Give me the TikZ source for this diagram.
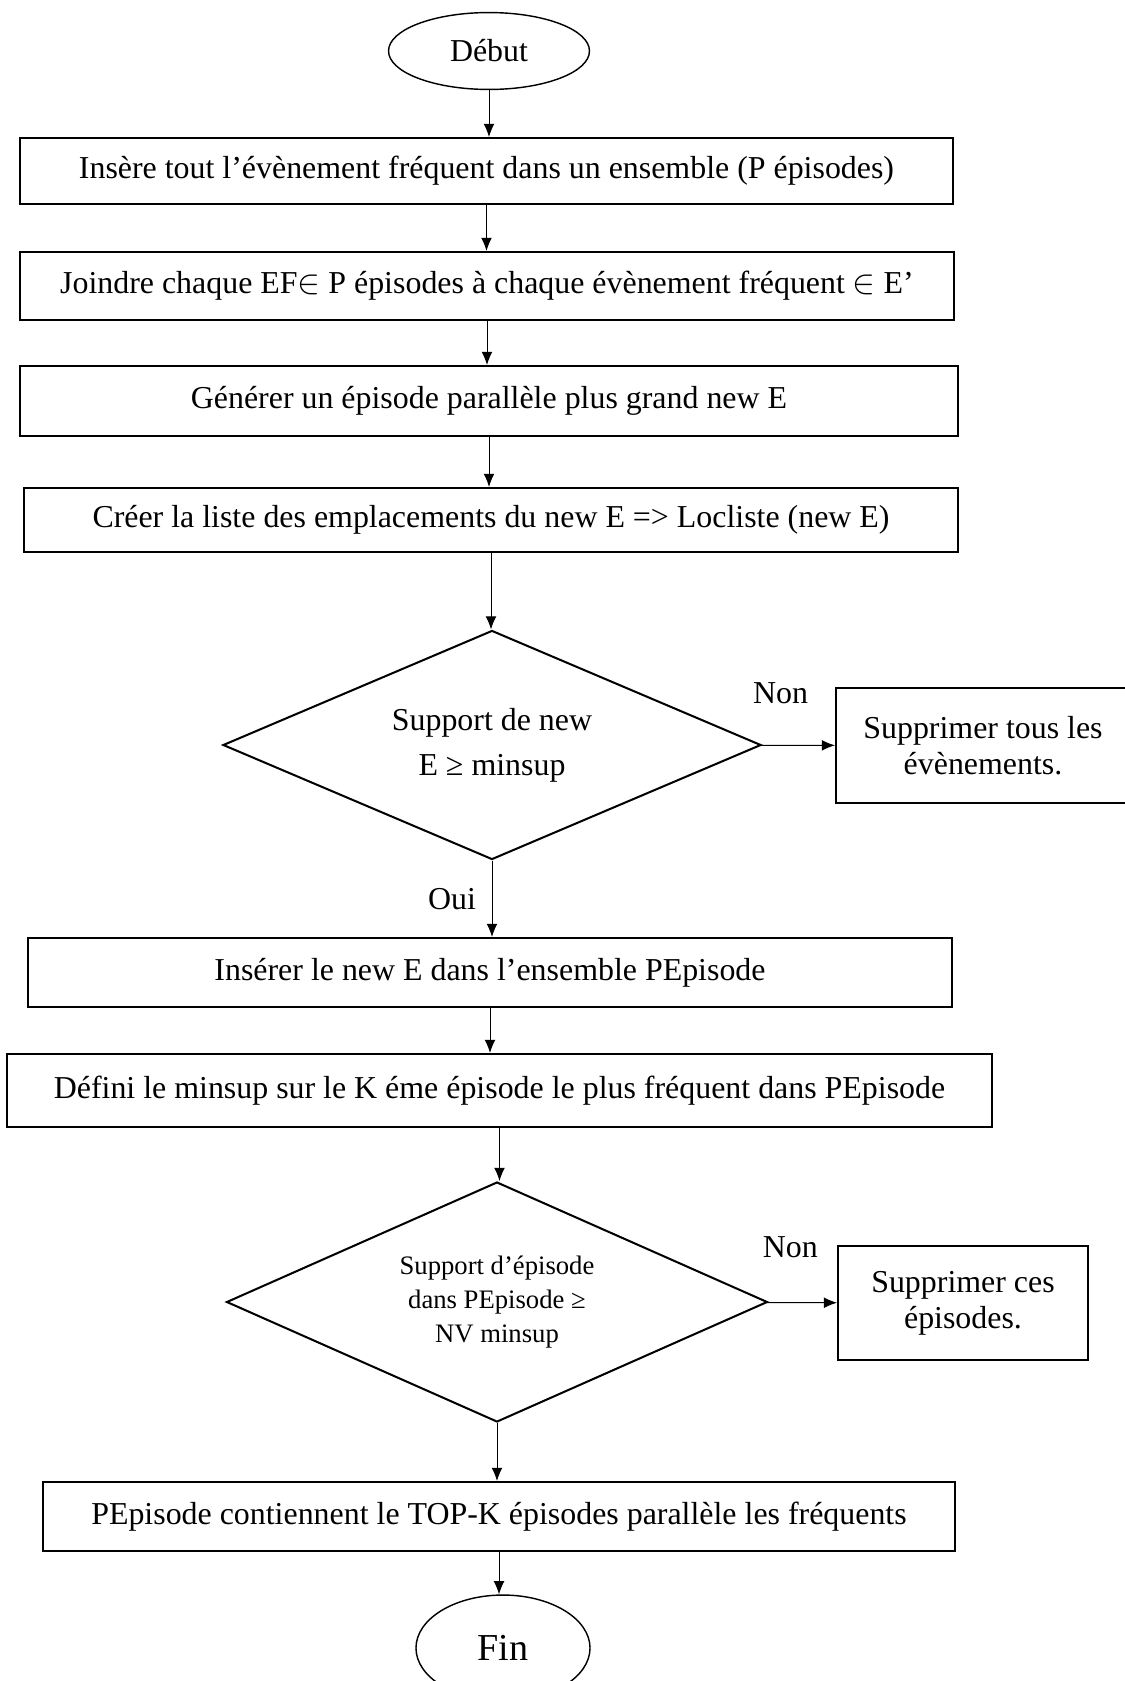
\documentclass[tikz,border=0pt]{standalone}
\usepackage{fontspec}
\setmainfont{Liberation Serif}
\usetikzlibrary{shapes.geometric}
\usetikzlibrary{arrows.meta}

\tikzset{
  etape/.style={rectangle,draw,line width=0.85pt,inner sep=0pt,align=center},
  test/.style={diamond,draw,line width=0.85pt,inner sep=0pt,align=center,aspect=2.35},
  borne/.style={ellipse,draw,line width=0.6pt,inner sep=0pt},
  fleche/.style={-{Latex[length=5.5pt,width=4.5pt]},line width=0.4pt}
}

\begin{document}
\begin{tikzpicture}[x=0.42pt,y=-0.42pt,font=\fontsize{13.4}{15}\selectfont]
\useasboundingbox (0,0) rectangle (1125,1681);
\node (debut) [borne,minimum width=84.4pt,minimum height=32.3pt] at (489,51) {Début};
\node (b1) [etape,minimum width=391.9pt,minimum height=27.7pt] at (486.5,171) {Insère tout l’évènement fréquent dans un ensemble (P épisodes)};
\node (b2) [etape,minimum width=392.3pt,minimum height=28.6pt] at (487,286) {Joindre chaque EF$\in$ P épisodes à chaque évènement fréquent $\in$ E’};
\node (b3) [etape,minimum width=394pt,minimum height=29.4pt] at (489,401) {Générer un épisode parallèle plus grand new E};
\node (b4) [etape,minimum width=392.3pt,minimum height=26.9pt] at (491,520) {Créer la liste des emplacements du new E => Locliste (new E)};
\node (d1) [test,minimum width=226pt,minimum height=96.2pt,font=\fontsize{13.4}{19}\selectfont] at (492,745) {Support de new\\E ≥ minsup};
\node (sup1) [etape,minimum width=123.5pt,minimum height=48.3pt] at (983,745.5) {Supprimer tous les\\évènements.};
\node (b5) [etape,minimum width=388.1pt,minimum height=29pt] at (490,972.5) {Insérer le new E dans l’ensemble PEpisode};
\node (b6) [etape,minimum width=413.7pt,minimum height=30.7pt] at (499.5,1090.5) {Défini le minsup sur le K éme épisode le plus fréquent dans PEpisode};
\node (d2) [test,minimum width=227.2pt,minimum height=100.8pt,font=\fontsize{11.2}{14.3}\selectfont] at (497,1302) {Support d’épisode\\dans PEpisode ≥\\NV minsup};
\node (sup2) [etape,minimum width=105pt,minimum height=47.9pt] at (963,1303) {Supprimer ces\\épisodes.};
\node (b7) [etape,minimum width=383pt,minimum height=29pt] at (499,1516.5) {PEpisode contiennent le TOP-K épisodes parallèle les fréquents};
\node (fin) [borne,minimum width=73.1pt,minimum height=44.5pt,font=\fontsize{16}{18}\selectfont] at (503,1648) {Fin};
\draw [fleche] (debut) -- (debut |- b1.north);
\draw [fleche] (b1) -- (b1 |- b2.north);
\draw [fleche] (b2) -- (b2 |- b3.north);
\draw [fleche] (b3) -- (b3 |- b4.north);
\draw [fleche] (b4) -- (b4 |- d1.north);
\draw [fleche] (d1) -- (sup1) node[pos=0.26,yshift=21.8pt] {Non};
\draw [fleche] (d1) -- (d1 |- b5.north) node[midway,xshift=-16.8pt] {Oui};
\draw [fleche] (b5) -- (b5 |- b6.north);
\draw [fleche] (b6) -- (b6 |- d2.north);
\draw [fleche] (d2) -- (sup2) node[pos=0.33,yshift=23.1pt] {Non};
\draw [fleche] (d2) -- (d2 |- b7.north);
\draw [fleche] (b7) -- (b7 |- fin.north);
\end{tikzpicture}
\end{document}
